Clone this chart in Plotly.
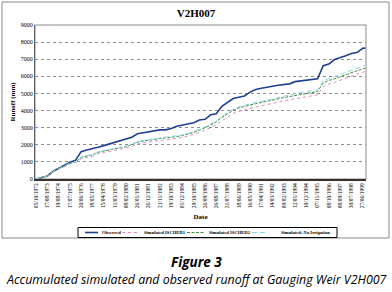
import plotly.graph_objects as go

# Tick labels (dates shown on the category-style x axis)
date_labels = [
    "05/10/1972", "17/08/1973", "19/08/1974", "17/07/1975", "20/06/1976",
    "18/05/1977", "15/04/1978", "11/03/1979", "08/02/1980", "26/01/1981",
    "26/12/1981", "21/11/1982", "19/10/1983", "01/12/1984", "29/10/1985",
    "26/09/1986", "26/08/1987", "21/07/1988", "18/06/1989", "16/05/1990",
    "17/04/1991", "14/03/1992", "09/02/1993", "12/01/1994", "10/12/1994",
    "07/11/1995", "08/10/1996", "08/09/1997", "30/07/1998", "27/06/1999",
]

# Record position (in units of tick-label spacing), half-step sampling
period = [k * 0.5 for k in range(59)] + [29.25]

observed = [
    0, 100, 180, 450, 620, 800, 980, 1100, 1600, 1700,
    1760, 1860, 1950, 2050, 2170, 2270, 2350, 2440, 2640, 2700,
    2750, 2820, 2870, 2870, 2950, 3080, 3150, 3230, 3290, 3450,
    3490, 3750, 3810, 4250, 4450, 4700, 4780, 4850, 5080, 5230,
    5300, 5340, 5420, 5480, 5520, 5560, 5690, 5740, 5790, 5830,
    5860, 6620, 6720, 6980, 7080, 7200, 7330, 7390, 7640, 7650,
]

sim_isched1 = [
    0, 90, 170, 400, 580, 720, 880, 960, 1180, 1270,
    1330, 1480, 1540, 1600, 1670, 1740, 1810, 1900, 2040, 2110,
    2170, 2210, 2250, 2290, 2320, 2370, 2430, 2500, 2600, 2720,
    2840, 3000, 3180, 3420, 3620, 3830, 3960, 4060, 4130, 4210,
    4270, 4350, 4420, 4490, 4570, 4630, 4690, 4760, 4810, 4870,
    4920, 5400, 5550, 5650, 5780, 5880, 6000, 6130, 6240, 6290,
]

sim_isched2 = [
    0, 100, 180, 420, 600, 750, 920, 1000, 1250, 1340,
    1400, 1560, 1620, 1680, 1750, 1820, 1900, 2000, 2150, 2220,
    2280, 2320, 2360, 2400, 2430, 2480, 2540, 2620, 2720, 2850,
    2980, 3150, 3340, 3600, 3800, 4020, 4150, 4250, 4320, 4400,
    4460, 4540, 4610, 4680, 4760, 4820, 4880, 4950, 5000, 5060,
    5110, 5620, 5760, 5850, 5980, 6080, 6200, 6330, 6430, 6480,
]

sim_no_irrigation = [
    0, 100, 180, 430, 610, 760, 930, 1010, 1270, 1360,
    1420, 1580, 1640, 1700, 1770, 1850, 1930, 2030, 2180, 2250,
    2310, 2360, 2400, 2440, 2470, 2520, 2580, 2670, 2770, 2900,
    3040, 3210, 3400, 3670, 3870, 4090, 4220, 4320, 4400, 4480,
    4540, 4620, 4700, 4770, 4850, 4910, 4980, 5050, 5110, 5170,
    5220, 5730, 5880, 5980, 6120, 6230, 6350, 6490, 6600, 6660,
]

y_ticks = [0, 1000, 2000, 3000, 4000, 5000, 6000, 7000, 8000, 9000]

series_names = ["Observed", "Simulated ISCHED1", "Simulated ISCHED2", "Simulated: No Irrigation"]
series_colors = ["#1f3f8f", "#e08ac0", "#3c8c3c", "#8fd3ea"]
series_dash = ["solid", "dot", "3px,1.5px", "5px,3px"]
series_width = [1.6, 1, 1, 1]

SERIF = "Liberation Serif"

# plot-area geometry in pixels (for converting decorations to paper coords)
L, R, T, B = 35, 366, 25, 179
W, H = R - L, B - T


def px(xpix):
    return (xpix - L) / W


def py(ypix):
    return (B - ypix) / H


fig = go.Figure()
for name, vals, col, dash, wd in zip(series_names,
                                     [observed, sim_isched1, sim_isched2, sim_no_irrigation],
                                     series_colors, series_dash, series_width):
    fig.add_trace(go.Scatter(x=period, y=vals, name=name, mode="lines",
                             line=dict(color=col, width=wd, dash=dash)))

fig.update_layout(
    width=392, height=292,
    margin=dict(l=L, r=392 - R, t=T, b=292 - B, autoexpand=False),
    paper_bgcolor="white", plot_bgcolor="white",
    font=dict(family=SERIF, color="black"),
    title=dict(text="<b>V2H007</b>", x=0.5, xanchor="center", y=1 - 13 / 292,
               yanchor="middle", font=dict(family=SERIF, size=11, color="black")),
    showlegend=False,
)

fig.update_xaxes(
    range=[-0.1, 29.3], tickmode="array", automargin=False,
    tickvals=list(range(len(date_labels))), ticktext=date_labels,
    tickangle=-90, tickfont=dict(family=SERIF, size=5.5, color="black"),
    showgrid=False, zeroline=False, showline=True, linecolor="#3a2e28", linewidth=2,
    ticks="", title=dict(text="<b>Date</b>", font=dict(family=SERIF, size=7), standoff=7),
)
fig.update_yaxes(
    range=[0, 9000], tickmode="array", tickvals=y_ticks, automargin=False,
    tickfont=dict(family=SERIF, size=6, color="black"),
    showgrid=True, gridcolor="#8c8c8c", gridwidth=0.7, griddash="dot",
    zeroline=False, showline=True, linecolor="#606060", linewidth=1,
    ticks="", title=dict(text="<b>Runoff (mm)</b>", font=dict(family=SERIF, size=7), standoff=4),
)

# plot frame (top/right gray edges)
fig.add_shape(type="rect", xref="paper", yref="paper", x0=0, x1=1, y0=0, y1=1,
              line=dict(color="#8c8c8c", width=1), layer="below")
# outer chart border
fig.add_shape(type="rect", xref="paper", yref="paper",
              x0=px(2), x1=px(389), y0=py(238), y1=py(2),
              line=dict(color="#8a8a8a", width=1), layer="below")

# legend box (single row, like the original)
fig.add_shape(type="rect", xref="paper", yref="paper",
              x0=px(78), x1=px(337), y0=py(237.5), y1=py(227.5),
              line=dict(color="black", width=1), fillcolor="white")
leg_line_x = [(85, 98), (122, 140), (187, 205), (252, 268)]
leg_text_x = [100, 142, 207, 279]
for (a, b), tx, name, col, dash, wd in zip(leg_line_x, leg_text_x, series_names,
                                           series_colors, series_dash, series_width):
    fig.add_shape(type="line", xref="paper", yref="paper",
                  x0=px(a), x1=px(b), y0=py(232.5), y1=py(232.5),
                  line=dict(color=col, width=wd, dash=dash))
    fig.add_annotation(text="<b>" + name + "</b>", xref="paper", yref="paper",
                       x=px(tx), y=py(232.5), xanchor="left", yanchor="middle",
                       showarrow=False, font=dict(family=SERIF, size=4.6, color="black"))

fig.add_annotation(text="<b><i>Figure 3</i></b>", xref="paper", yref="paper",
                   x=px(196), y=py(262), xanchor="center", yanchor="middle", showarrow=False,
                   font=dict(family="Open Sans", size=13.5, color="black"))
fig.add_annotation(text="<i>Accumulated simulated and observed runoff at Gauging Weir V2H007</i>",
                   xref="paper", yref="paper",
                   x=px(196), y=py(279), xanchor="center", yanchor="middle", showarrow=False,
                   font=dict(family="Open Sans", size=12.4, color="black"))

fig.write_html("out.html", config={"displayModeBar": False},
               post_script="document.body.style.margin='0px';document.body.style.overflow='hidden';")
